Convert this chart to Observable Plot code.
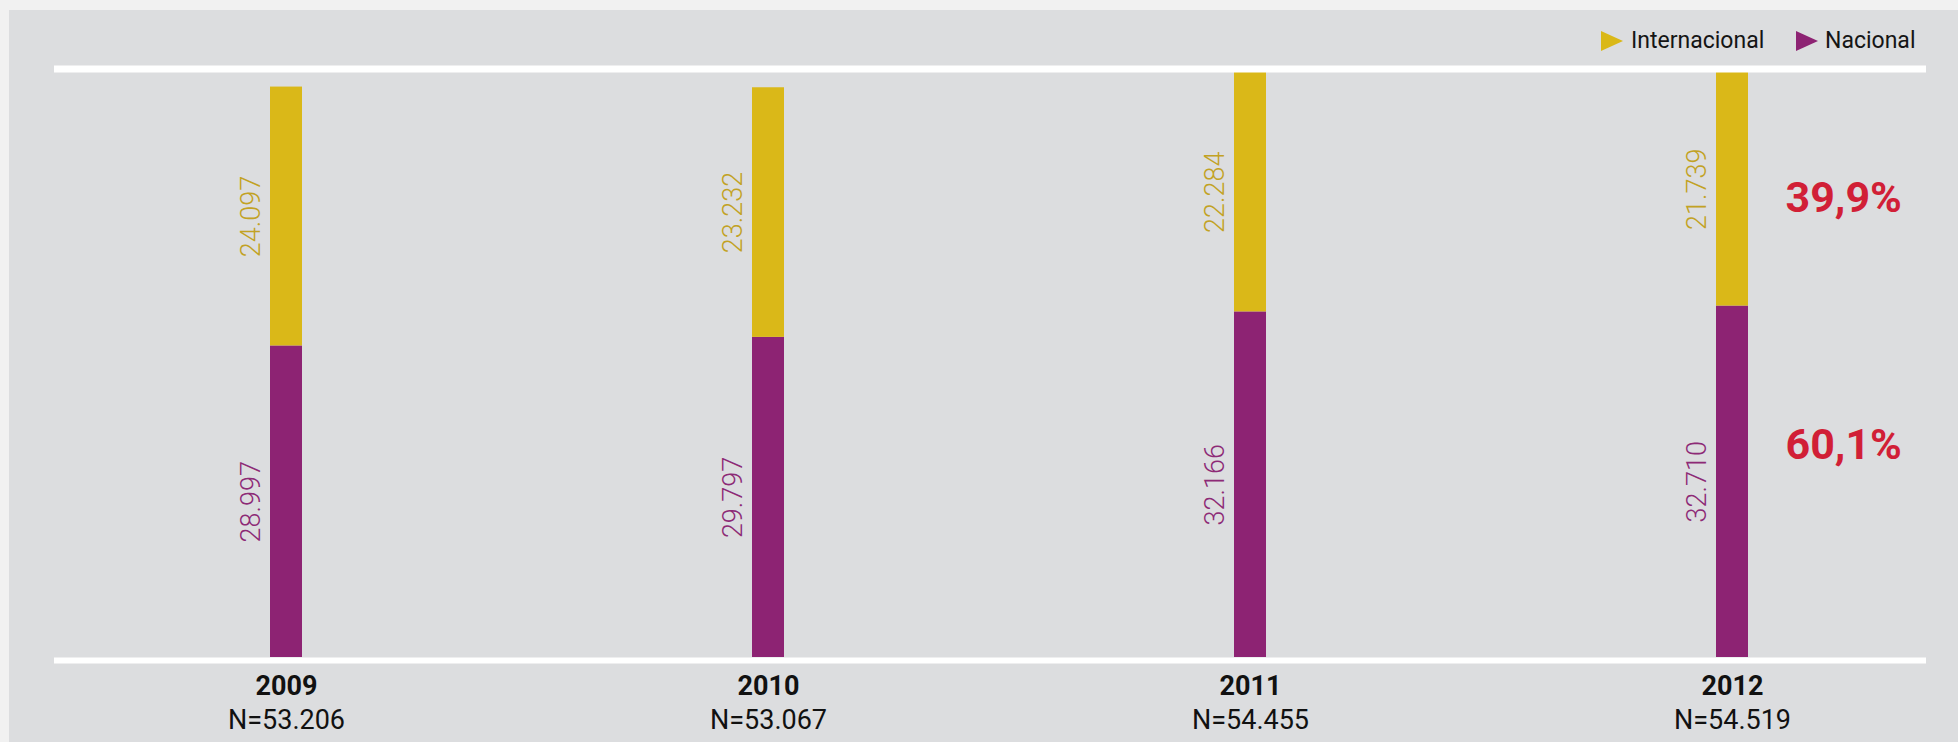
<!DOCTYPE html>
<html>
<head>
<meta charset="utf-8">
<script src="https://cdn.jsdelivr.net/npm/d3@7"></script>
<script src="https://cdn.jsdelivr.net/npm/@observablehq/plot@0.6"></script>
<style>
  html, body { margin: 0; padding: 0; }
  body { width: 1958px; height: 742px; background: #f1f1f1; position: relative; overflow: hidden; font-family: Roboto, "Noto Sans", sans-serif; }
  #panel { position: absolute; left: 9px; top: 10px; right: 0; bottom: 0; background: #dcdddf; }
  #chart { position: absolute; left: 0; top: 0; }
  .leg { position: absolute; top: 26px; height: 30px; line-height: 30px; font-size: 23px; color: #151515; display: flex; align-items: center; white-space: nowrap; }
  .tri { width: 0; height: 0; border-top: 10px solid transparent; border-bottom: 10px solid transparent; border-left-width: 22px; border-left-style: solid; }
</style>
</head>
<body>
<div id="panel"></div>
<div id="chart"></div>
<div class="leg" style="left:1601px"><span class="tri" style="border-left-color:#dab818"></span><span style="margin-left:8px">Internacional</span></div>
<div class="leg" style="left:1796px"><span class="tri" style="border-left-color:#8d2373"></span><span style="margin-left:7px">Nacional</span></div>
<script>
const years = ["2009", "2010", "2011", "2012"];
const nLabels = ["N=53.206", "N=53.067", "N=54.455", "N=54.519"];
const series = ["Nacional", "Internacional"];
const nacional = [28997, 29797, 32166, 32710];
const internacional = [24097, 23232, 22284, 21739];
const barColors = ["#8d2373", "#dab818"];
const labelColors = ["#8d2a76", "#c2a224"];
const pctYear = "2012";
const pctLabels = ["60,1%", "39,9%"];

const data = years.flatMap((year, i) => [
  {year, series: "Nacional", value: nacional[i]},
  {year, series: "Internacional", value: internacional[i]}
]);
const fmt = d3.formatLocale({decimal: ",", thousands: ".", grouping: [3], currency: ["", ""]}).format(",d");
const sIdx = d => series.indexOf(d.series);
const pctData = data.filter(d => d.year === pctYear);
const yMax = d3.max(years, (y, i) => nacional[i] + internacional[i]);

const plot = Plot.plot({
  width: 1958,
  height: 742,
  marginTop: 72,
  marginBottom: 85,
  marginLeft: 54,
  marginRight: 32,
  style: {background: "transparent", fontFamily: "Roboto, 'Noto Sans', sans-serif", overflow: "visible"},
  x: {type: "band", domain: years, range: [44, 1973], padding: 0, axis: null},
  y: {axis: null, domain: [0, yMax]},
  color: {type: "identity"},
  marks: [
    Plot.barY(data, Plot.stackY({x: "year", y: "value", fill: d => barColors[sIdx(d)], insetLeft: 225, insetRight: 225})),
    Plot.ruleY([0], {stroke: "#ffffff", strokeWidth: 6, dy: 3}),
    Plot.ruleY([yMax], {stroke: "#ffffff", strokeWidth: 7, dy: -3.5}),
    Plot.text(data, Plot.stackY({
      x: "year", y: "value", text: d => fmt(d.value), fill: d => labelColors[sIdx(d)],
      rotate: -90, dx: -35, fontSize: 27, fontWeight: 300, textAnchor: "middle", lineAnchor: "middle"
    })),
    Plot.text(pctData, Plot.stackY({
      x: "year", y: "value", text: d => d.series === "Internacional" ? pctLabels[1] : null,
      fill: "#d11f36", fontSize: 43, fontWeight: "bold", textAnchor: "start", dx: 53, dy: 9, lineAnchor: "middle"
    })),
    Plot.text(pctData, Plot.stackY({
      x: "year", y: "value", text: d => d.series === "Nacional" ? pctLabels[0] : null,
      fill: "#d11f36", fontSize: 43, fontWeight: "bold", textAnchor: "start", dx: 53, dy: -37, lineAnchor: "middle"
    })),
    Plot.text(years, {x: d => d, text: d => d, frameAnchor: "bottom", dy: 29, fontSize: 27, fontWeight: "bold", fill: "#111", lineAnchor: "middle"}),
    Plot.text(years, {x: d => d, text: (d, i) => nLabels[i], frameAnchor: "bottom", dy: 63, fontSize: 27, fill: "#111", lineAnchor: "middle"})
  ]
});
document.getElementById("chart").appendChild(plot);
</script>
</body>
</html>
